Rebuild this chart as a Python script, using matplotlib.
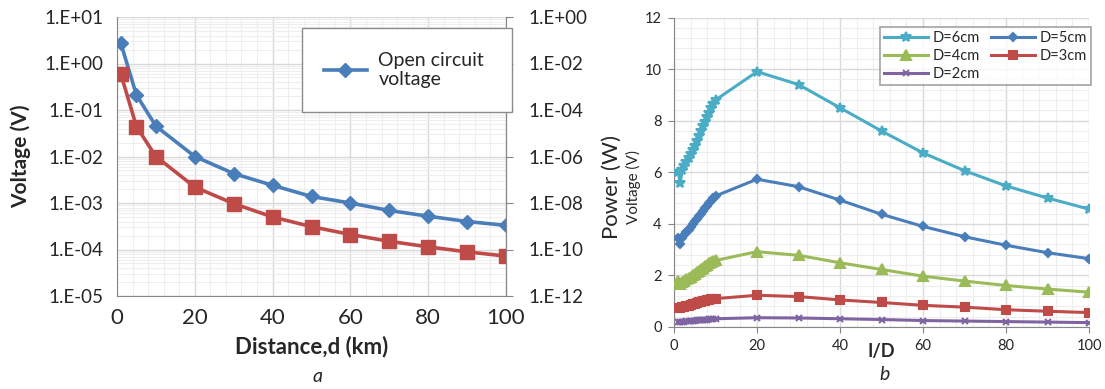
import matplotlib
matplotlib.use('Agg')
import matplotlib.pyplot as plt
from matplotlib.ticker import FixedLocator, MultipleLocator, LogLocator, FuncFormatter, NullFormatter
from matplotlib.patches import Rectangle

plt.rcParams['font.family'] = ['Lato', 'DejaVu Sans']

# panel a: voltage vs distance (log scale)
dist_km = [1, 5, 10, 20, 30, 40, 50, 60, 70, 80, 90, 100]
v_open = [2.7, 0.21, 0.045, 0.010, 0.0043, 0.0024, 0.00138, 0.0010, 0.00069, 0.00052, 0.00040, 0.00033]
v_load = [0.59, 0.044, 0.010, 0.0022, 0.00097, 0.00050, 0.00031, 0.00021, 0.00015, 0.000114, 0.000089, 0.000072]

# panel b: power vs l/D
ld = [1, 1.5, 2, 2.5, 3, 3.5, 4, 4.5, 5, 5.5, 6, 6.5, 7, 7.5, 8, 8.5, 9, 9.5, 10,
      20, 30, 40, 50, 60, 70, 80, 90, 100]
p_6cm = [6.0, 5.6, 6.1, 6.25, 6.4, 6.55, 6.7, 6.85, 7.0, 7.2, 7.4, 7.6, 7.8, 7.95, 8.15, 8.3, 8.5, 8.65, 8.8,
         9.9, 9.4, 8.5, 7.6, 6.75, 6.06, 5.47, 5.0, 4.57]
p_5cm = [3.45, 3.2, 3.45, 3.56, 3.67, 3.78, 3.89, 4.0, 4.1, 4.2, 4.3, 4.4, 4.5, 4.6, 4.7, 4.8, 4.9, 5.0, 5.08,
         5.73, 5.44, 4.92, 4.37, 3.9, 3.5, 3.17, 2.88, 2.65]
p_4cm = [1.78, 1.65, 1.75, 1.8, 1.85, 1.9, 1.95, 2.0, 2.06, 2.12, 2.18, 2.24, 2.3, 2.36, 2.42, 2.47, 2.52, 2.56, 2.58,
         2.92, 2.78, 2.49, 2.23, 1.97, 1.78, 1.61, 1.47, 1.35]
p_3cm = [0.74, 0.72, 0.76, 0.78, 0.8, 0.83, 0.85, 0.88, 0.9, 0.93, 0.95, 0.98, 1.0, 1.02, 1.04, 1.06, 1.08, 1.09, 1.1,
         1.23, 1.18, 1.05, 0.95, 0.84, 0.77, 0.67, 0.61, 0.56]
p_2cm = [0.19, 0.19, 0.2, 0.21, 0.22, 0.22, 0.23, 0.24, 0.25, 0.26, 0.26, 0.27, 0.28, 0.28, 0.29, 0.3, 0.3, 0.31, 0.32,
         0.36, 0.35, 0.32, 0.29, 0.25, 0.23, 0.21, 0.19, 0.17]

W, H = 1105, 389
fig = plt.figure(figsize=(W / 100, H / 100), dpi=100)

spine_col = '#868686'
major_col = '#d9d9d9'
minor_col = '#eeeeee'
txt_col = '#262626'


def exp_fmt(v, pos):
    import math
    e = int(round(math.log10(v)))
    return '1.E%+03d' % e


# ---------- panel a ----------
ax = fig.add_axes([117 / W, 1 - 296 / H, 389 / W, 279 / H])
ax.plot(dist_km, v_open, color='#4a7ebb', lw=2.6, marker='D', ms=7.5, label='Open circuit\nvoltage', zorder=3)
ax.plot(dist_km, v_load, color='#be4b48', lw=2.6, marker='s', ms=10, zorder=3)
ax.set_yscale('log')
ax.set_xlim(0, 100)
ax.set_ylim(1e-5, 1e1)
ax.xaxis.set_major_locator(MultipleLocator(20))
ax.xaxis.set_minor_locator(MultipleLocator(4))
ax.yaxis.set_major_locator(LogLocator(base=10, numticks=20))
ax.yaxis.set_minor_locator(LogLocator(base=10, subs=range(2, 10), numticks=20))
ax.yaxis.set_minor_formatter(NullFormatter())
ax.yaxis.set_major_formatter(FuncFormatter(exp_fmt))
ax.grid(True, which='major', color=major_col, lw=1.0)
ax.grid(True, which='minor', color=minor_col, lw=0.8)
ax.set_axisbelow(True)
ax.tick_params(axis='y', which='major', labelsize=13.5, colors=txt_col, length=0, pad=10)
ax.tick_params(axis='x', which='major', labelsize=16, colors=txt_col, length=0, pad=9)
ax.tick_params(which='minor', length=0)
for s in ['left', 'bottom', 'right']:
    ax.spines[s].set_color(spine_col)
ax.spines['top'].set_visible(False)
ax.set_xlabel('Distance,d (km)', fontsize=16, fontweight='bold', color=txt_col, labelpad=5)
ax.set_ylabel('Voltage (V)', fontsize=15, fontweight='bold', color=txt_col, labelpad=9)

ax2 = ax.twinx()
ax2.set_yscale('log')
ax2.set_ylim(1e-12, 1e0)
ax2.yaxis.set_major_locator(FixedLocator([1e0, 1e-2, 1e-4, 1e-6, 1e-8, 1e-10, 1e-12]))
ax2.yaxis.set_minor_locator(FixedLocator([]))
ax2.yaxis.set_major_formatter(FuncFormatter(exp_fmt))
ax2.tick_params(axis='y', labelsize=13.5, colors=txt_col, length=5, color=spine_col, pad=11)
for s in ['left', 'bottom', 'top']:
    ax2.spines[s].set_visible(False)
ax2.spines['right'].set_color(spine_col)

h, l = ax.get_legend_handles_labels()
fig.patches.append(Rectangle((302 / W, 1 - 112 / H), 210 / W, 84 / H, transform=fig.transFigure,
                             facecolor='white', edgecolor='#8c8c8c', lw=1.0, zorder=5))
leg = fig.legend(h, l, loc='center', bbox_to_anchor=(404 / W, 1 - 70 / H), frameon=False,
                 fontsize=14, handlelength=2.2, handletextpad=0.6, labelcolor=txt_col)
leg.set_zorder(6)
fig.text(318 / W, 1 - 376 / H, 'a', fontsize=14, style='italic', ha='center', va='center', color=txt_col)

# ---------- panel b ----------
bx = fig.add_axes([674 / W, 1 - 327 / H, 415 / W, 309.5 / H])
series = [
    ('D=6cm', p_6cm, '#4bacc6', '*', 7),
    ('D=4cm', p_4cm, '#9bbb59', '^', 6.5),
    ('D=2cm', p_2cm, '#8064a2', 'x', 5),
    ('D=5cm', p_5cm, '#4a7ebb', 'D', 4.5),
    ('D=3cm', p_3cm, '#be4b48', 's', 6),
]
for name, vals, col, mk, ms in series:
    bx.plot(ld, vals, color=col, lw=2.2, marker=mk, ms=ms, mew=1.5, label=name, zorder=3)
bx.set_xlim(0, 100)
bx.set_ylim(0, 12)
bx.xaxis.set_major_locator(MultipleLocator(20))
bx.xaxis.set_minor_locator(MultipleLocator(4))
bx.yaxis.set_major_locator(MultipleLocator(2))
bx.yaxis.set_minor_locator(MultipleLocator(0.4))
bx.grid(True, which='major', color=major_col, lw=1.0)
bx.grid(True, which='minor', color=minor_col, lw=0.8)
bx.set_axisbelow(True)
bx.tick_params(which='major', labelsize=10.5, colors=txt_col, length=4, color=spine_col, pad=5)
bx.tick_params(which='minor', length=0)
for s in ['left', 'bottom']:
    bx.spines[s].set_color(spine_col)
for s in ['top', 'right']:
    bx.spines[s].set_visible(False)

bleg = bx.legend(loc='upper right', bbox_to_anchor=(1091 / W, 1 - 27 / H), bbox_transform=fig.transFigure,
                 ncol=2, fontsize=10.5, frameon=True, fancybox=False, edgecolor='#8c8c8c',
                 handlelength=3.0, handletextpad=0.3, columnspacing=0.8, labelspacing=0.25,
                 borderpad=0.3, borderaxespad=0, labelcolor=txt_col)
bleg.get_frame().set_linewidth(1.2)

fig.text(612 / W, 1 - 187 / H, 'Power (W)', rotation=90, fontsize=16, color=txt_col,
         ha='center', va='center')
fig.text(633 / W, 1 - 187 / H, 'Voltage (V)', rotation=90, fontsize=11, color=txt_col,
         ha='center', va='center')
fig.text(881 / W, 1 - 351 / H, 'I/D', fontsize=13, fontweight='bold', color=txt_col,
         ha='center', va='center')
fig.text(885 / W, 1 - 375 / H, 'b', fontsize=14, style='italic', ha='center', va='center', color=txt_col)

fig.savefig('out.png', dpi=100, facecolor='white')
